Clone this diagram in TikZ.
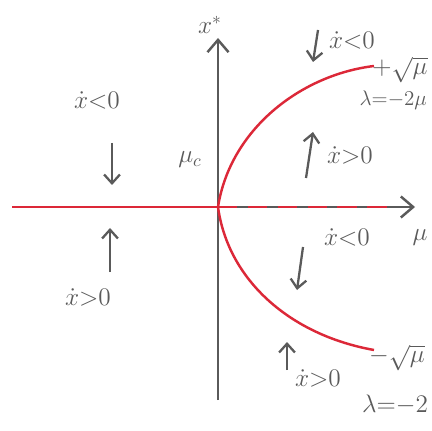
\documentclass[tikz,border=0pt]{standalone}
\usepackage{tikz}
\usetikzlibrary{positioning,arrows.meta}
\definecolor{pencil}{HTML}{5A5A5A}
\definecolor{branch}{HTML}{DC2838}
\tikzset{
  axis/.style={draw=pencil, line width=1.4pt, -{Straight Barb[length=7pt,width=12pt]}},
  flow/.style={draw=pencil, line width=1.3pt, -{Straight Barb[length=5pt,width=9pt]}},
  lbl/.style={text=pencil, font=\Large, inner sep=1pt},
  small/.style={lbl, font=\large},
  stable/.style={draw=branch, line width=1.4pt},
  unstable/.style={stable, dash pattern=on 11pt off 6pt},
}

\begin{document}
\begin{tikzpicture}[x=0.02cm, y=-0.02cm]
  \useasboundingbox (0,0) rectangle (431,431);
  % axes
  \coordinate (o) at (218,207);
  \coordinate (xl) at (12,207);
  \coordinate (xr) at (415,207);
  \coordinate (xd) at (395,207);
  \coordinate (yb) at (218,400);
  \coordinate (yt) at (218,38);
  \draw[axis] (xl) -- (xr);
  \draw[axis] (yb) -- (yt);
  % branches of fixed points
  \coordinate (ptop) at (374,66);
  \coordinate (pbot) at (374,350);
  \draw[stable] (xl) -- (o);
  \draw[unstable] (o) -- (xd);
  \draw[stable] (o) .. controls (230,130) and (300,75) .. (ptop);
  \draw[stable] (o) .. controls (228,280) and (290,335) .. (pbot);
  % labels
  \node[lbl] (xstar) at (210,25) {$x^*$};
  \node[lbl] (muc) at (190,160) {$\mu_c$};
  \node[lbl] (mu) at (420,238) {$\mu$};
  \node[lbl] (lneg) at (97,100) {$\dot x{<}0$};
  \node[lbl] (lpos) at (88,297) {$\dot x{>}0$};
  \node[lbl] (uneg) at (352,40) {$\dot x{<}0$};
  \node[lbl] (plus) at (400,70) {$+\sqrt{\mu}$};
  \node[small, anchor=east] (lamu) at (429,100) {$\lambda{=}{-}2\mu$};
  \node[lbl] (upos) at (350,155) {$\dot x{>}0$};
  \node[lbl] (mneg) at (347,237) {$\dot x{<}0$};
  \node[lbl] (bpos) at (318,378) {$\dot x{>}0$};
  \node[lbl] (minus) at (397,358) {$-\sqrt{\mu}$};
  \node[lbl] (laml) at (395,405) {$\lambda{=}{-}2$};
  % flow directions
  \coordinate (a1) at (112,143); \coordinate (a1e) at (112,185);
  \coordinate (a2) at (110,272); \coordinate (a2e) at (110,228);
  \coordinate (a3) at (318,30);  \coordinate (a3e) at (313,62);
  \coordinate (a4) at (306,178); \coordinate (a4e) at (313,132);
  \coordinate (a5) at (303,247); \coordinate (a5e) at (297,290);
  \coordinate (a6) at (287,370); \coordinate (a6e) at (287,342);
  \foreach \a in {a1,a2,a3,a4,a5,a6}
    \draw[flow] (\a) -- (\a e);
\end{tikzpicture}
\end{document}
